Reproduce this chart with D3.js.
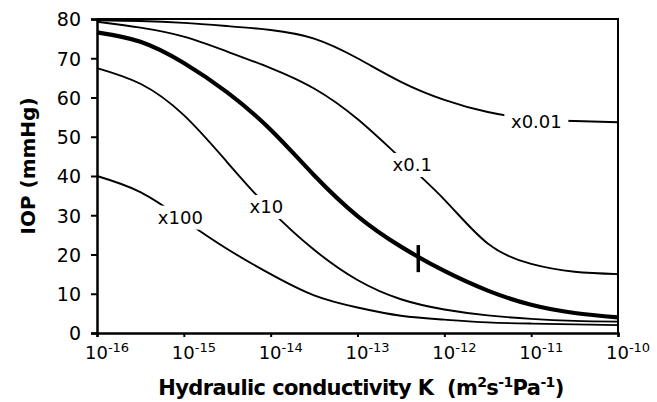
<!DOCTYPE html>
<html>
<head>
<meta charset="utf-8">
<script src="https://cdn.jsdelivr.net/npm/d3@7"></script>
<style>
  body { margin: 0; background: #fff; }
  text { font-family: "DejaVu Sans", Verdana, sans-serif; fill: #000; }
</style>
</head>
<body>
<script>
// log10 of K, half-decade steps
var logK = [-16, -15.5, -15, -14.5, -14, -13.5, -13, -12.5, -12, -11.5, -11, -10.5, -10];

// IOP (mmHg) for each outflow multiplier
var iop001 = [79.7, 79.5, 79.0, 78.2, 77.2, 75.0, 70.0, 64.0, 59.4, 56.3, 54.6, 54.0, 53.7];
var iop01  = [79.3, 77.8, 75.5, 71.7, 67.5, 62.3, 54.5, 44.5, 34.0, 22.8, 17.6, 15.6, 15.0];
var iop1   = [76.6, 74.2, 68.8, 61.3, 51.8, 40.2, 29.8, 22.0, 15.8, 10.8, 7.2, 5.1, 4.0];
var iop10  = [67.5, 63.5, 55.5, 43.5, 31.3, 21.2, 13.5, 8.6, 6.0, 4.5, 3.6, 3.1, 2.9];
var iop100 = [40.0, 35.9, 28.8, 21.4, 15.0, 9.6, 6.5, 4.4, 3.4, 2.7, 2.4, 2.2, 2.0];

var seriesNames = ["x0.01", "x0.1", "x1", "x10", "x100"];
var seriesVals = [iop001, iop01, iop1, iop10, iop100];

// curve labels: name, log10 K, IOP
var labelNames = ["x0.01", "x0.1", "x10", "x100"];
var labelK = [-10.94, -12.37, -14.05, -15.04];
var labelIop = [53.9, 42.8, 32.1, 29.4];

// marker on the x1 curve
var markerK = -12.3;
var markerLo = 15.5, markerHi = 22.4;

var yTicks = [0, 10, 20, 30, 40, 50, 60, 70, 80];
var xTicks = [-16, -15, -14, -13, -12, -11, -10];

var w = 657, h = 402;
var mLeft = 97, mRight = 618, mTop = 19, mBottom = 333;

var svg = d3.select("body").append("svg")
	.attr("width", w)
	.attr("height", h);

var x = d3.scaleLinear().domain([-16, -10]).range([mLeft, mRight]);
var y = d3.scaleLinear().domain([0, 80]).range([mBottom, mTop]);

// frame top + right
svg.append("path")
	.attr("d", "M" + mLeft + "," + mTop + "H" + mRight + "V" + mBottom)
	.attr("fill", "none")
	.attr("stroke", "#000")
	.attr("stroke-width", 2);

var line = d3.line()
	.x(function (d, i) { return x(logK[i]); })
	.y(function (d) { return y(d); })
	.curve(d3.curveNatural);

svg.selectAll("path.curve")
	.data(seriesVals)
	.enter()
	.append("path")
	.attr("class", "curve")
	.attr("d", line)
	.attr("fill", "none")
	.attr("stroke", "#000")
	.attr("stroke-width", function (d, i) { return seriesNames[i] == "x1" ? 4.2 : 1.9; });

// marker
svg.append("line")
	.attr("x1", x(markerK)).attr("x2", x(markerK))
	.attr("y1", y(markerHi)).attr("y2", y(markerLo))
	.attr("stroke", "#000")
	.attr("stroke-width", 3.5);

// labels on white patches
var lab = svg.selectAll("g.lab")
	.data(labelNames)
	.enter()
	.append("g")
	.attr("class", "lab")
	.attr("transform", function (d, i) { return "translate(" + x(labelK[i]) + "," + y(labelIop[i]) + ")"; });

lab.append("rect")
	.attr("x", function (d) { return -d.length * 5.6 - 4; })
	.attr("y", -12)
	.attr("width", function (d) { return d.length * 11.2 + 8; })
	.attr("height", 24)
	.attr("fill", "#fff");

lab.append("text")
	.attr("text-anchor", "middle")
	.attr("dy", "0.36em")
	.attr("font-size", "18px")
	.text(function (d) { return d; });

// axes
var yAxis = d3.axisLeft(y).tickValues(yTicks).tickSize(6).tickPadding(10);
var gy = svg.append("g").attr("transform", "translate(" + mLeft + ",0)").call(yAxis);
gy.select(".domain").attr("stroke-width", 2.5);
gy.selectAll(".tick line").attr("stroke-width", 2);
gy.selectAll(".tick text").attr("font-size", "19px").attr("font-family", "DejaVu Sans").attr("dy", "0.36em");

var xAxis = d3.axisBottom(x).tickValues(xTicks).tickSize(4).tickFormat("");
var gx = svg.append("g").attr("transform", "translate(0," + mBottom + ")").call(xAxis);
gx.select(".domain").attr("stroke-width", 2.5);
gx.selectAll(".tick line").attr("stroke-width", 2);

var xt = svg.selectAll("text.xt")
	.data(xTicks)
	.enter()
	.append("text")
	.attr("class", "xt")
	.attr("x", function (d) { return x(d) - 12; })
	.attr("y", 359)
	.attr("font-size", "18px");
xt.append("tspan").text("10");
xt.append("tspan").attr("font-size", "13px").attr("dy", -7).text(function (d) { return d; });

// axis titles
svg.append("text")
	.attr("transform", "translate(35,166) rotate(-90)")
	.attr("text-anchor", "middle")
	.attr("font-size", "20px")
	.attr("font-weight", "bold")
	.attr("font-family", "DejaVu Sans Condensed")
	.text("IOP (mmHg)");

var xl = svg.append("text")
	.attr("x", 361)
	.attr("y", 395)
	.attr("text-anchor", "middle")
	.attr("font-size", "21px")
	.attr("font-weight", "bold")
	.attr("font-family", "DejaVu Sans Condensed")
	.attr("letter-spacing", "-0.6px");
xl.append("tspan").text("Hydraulic conductivity K\u00a0 (m");
xl.append("tspan").attr("font-size", "14px").attr("dy", -8).text("2");
xl.append("tspan").attr("dy", 8).text("s");
xl.append("tspan").attr("font-size", "14px").attr("dy", -8).text("-1");
xl.append("tspan").attr("dy", 8).text("Pa");
xl.append("tspan").attr("font-size", "14px").attr("dy", -8).text("-1");
xl.append("tspan").attr("dy", 8).text(")");
</script>
</body>
</html>
